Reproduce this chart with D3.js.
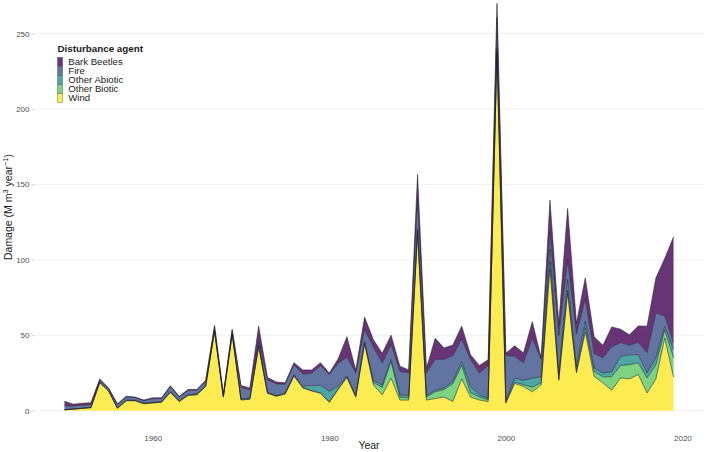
<!DOCTYPE html>
<html>
<head>
<meta charset="utf-8">
<script src="https://cdn.jsdelivr.net/npm/d3@7"></script>
<style>
  html, body { margin: 0; padding: 0; background: #fff; }
  svg { display: block; font-family: "Liberation Sans", Arial, sans-serif; }
</style>
</head>
<body>
<svg id="chart" width="709" height="452"></svg>
<script>
const years = [1950,1951,1952,1953,1954,1955,1956,1957,1958,1959,
  1960,1961,1962,1963,1964,1965,1966,1967,1968,1969,
  1970,1971,1972,1973,1974,1975,1976,1977,1978,1979,
  1980,1981,1982,1983,1984,1985,1986,1987,1988,1989,
  1990,1991,1992,1993,1994,1995,1996,1997,1998,1999,
  2000,2001,2002,2003,2004,2005,2006,2007,2008,2009,
  2010,2011,2012,2013,2014,2015,2016,2017,2018,2019];

const wind = [0.5,1,1.5,2,18.5,13,1.5,6.5,6.5,4.5,
  5,5.5,12,6,10,10.5,16,52.5,9,50.5,
  7,7.5,42.5,11.5,9.5,11,23,15,13,11.5,
  5.5,14,22,9,44,17,10.5,21.5,7,7,
  118,7,8,9,6,21,9,7,6,237,
  5,18,16,12.5,17,94,20,78,25,52,
  22.7,18.4,13.5,21.7,21,24,11.7,21,48,22.3];

const otherBiotic = [0,0,0,0,0.2,0.2,0.1,0.2,0.2,0.2,
  0.2,0.2,0.3,0.2,0.3,0.2,0.3,0.2,0.1,0.2,
  0.3,0.3,0.3,0.2,0.2,0.2,0.3,0.3,0.3,0.3,
  0.3,0.3,0.3,0.3,1,1.5,5,11,2,1.5,
  1,2,4.5,5,12,9,3,2,1.3,1.5,
  0.5,1,1.2,3,1.5,5,1,2,1,3,
  3.3,4,9,8.3,9.5,7.7,10,9.5,5.5,12.7];

const otherAbiotic = [0.2,0.1,0.1,0.1,0.3,0.3,0.3,0.3,0.2,0.3,
  0.4,0.4,0.5,0.4,0.4,0.3,0.4,0.3,0.2,0.3,
  0.5,0.5,0.5,0.3,0.3,0.3,0.5,1,3.3,5,
  7,2,0.7,0.7,1,1.5,1.5,1.5,1.5,1.5,
  1.5,1,1,1,1.5,2.5,4,1.5,1,2,
  1,2.5,3,6,4,8,3,7,3,4,
  2.3,2.6,3.3,6,6.5,5.4,3.3,4.5,2.3,5.5];

const fire = [2.5,2,2,2,1.5,1.2,2.2,2,1.7,1.6,
  2.4,2,3.2,2.5,2.8,2.5,3,2.5,1.2,2.2,
  7.5,5.5,2.2,8.5,7.7,6,6.5,8,8,13,
  11,15,12.5,15,8,22,14.5,10,15.5,15,
  20,15,20.5,19,17,15,18,14.5,21.5,20,
  30,14.5,11.5,26.5,11.5,12,26,13,22,15,
  9.7,10,16.7,9,6.3,8.3,13.3,29.8,7,4.5];

const barkBeetles = [3,1.2,1.3,1.2,0.5,0.3,0.4,0.5,0.4,0.4,
  0.5,0.4,0.5,0.4,0.5,0.5,0.5,1,0.5,0.8,
  1.3,1.2,10.5,1.5,1.3,1,1.5,2.7,2.4,2,
  1.2,3,13.5,2,8,5,6.5,6,3.5,2,
  16,3,14,7.5,7,8.5,3,5,4,9.5,
  1.5,7,6.5,11,1,20.5,8,34,7,14,
  11,8.3,13,9,7,10.7,17.7,23.2,38,70.2];

const agents = ["Bark Beetles", "Fire", "Other Abiotic", "Other Biotic", "Wind"];
const agentColors = ["#440154", "#3B528B", "#21908C", "#5DC863", "#FDE725"];
const yTicks = [0, 50, 100, 150, 200, 250];
const xTicks = [1960, 1980, 2000, 2020];

const series = {
  "Bark Beetles": barkBeetles,
  "Fire": fire,
  "Other Abiotic": otherAbiotic,
  "Other Biotic": otherBiotic,
  "Wind": wind
};
const table = years.map((yr, i) => {
  const row = { year: yr };
  agents.forEach(a => row[a] = series[a][i]);
  return row;
});

const svg = d3.select("#chart");
const panel = { left: 34, right: 704, top: -17, bottom: 431 };

const x = d3.scaleLinear().domain([1946.55, 2022.45]).range([panel.left, panel.right]);
const y = d3.scaleLinear().domain([-13.5, 283.5]).range([panel.bottom, panel.top]);
const color = d3.scaleOrdinal().domain(agents).range(agentColors);

// gridlines
svg.append("g").selectAll("line").data(yTicks).join("line")
  .attr("x1", panel.left).attr("x2", panel.right)
  .attr("y1", d => y(d)).attr("y2", d => y(d))
  .attr("stroke", "#ebebeb").attr("stroke-width", 0.8);

// stacked areas (Wind at bottom)
const stackKeys = agents.slice().reverse();
const stacked = d3.stack().keys(stackKeys)(table);

const area = d3.area()
  .x(d => x(d.data.year))
  .y0(d => y(d[0]))
  .y1(d => y(d[1]));
const upper = d3.line()
  .x(d => x(d.data.year))
  .y(d => y(d[1]));

const g = svg.append("g");
g.selectAll("path.area").data(stacked).join("path")
  .attr("class", "area")
  .attr("d", area)
  .attr("fill", d => color(d.key))
  .attr("fill-opacity", 0.8)
  .attr("stroke", "none");
g.selectAll("path.upper").data(stacked).join("path")
  .attr("class", "upper")
  .attr("d", upper)
  .attr("fill", "none")
  .attr("stroke", "#1c1c2a")
  .attr("stroke-width", 0.55);

// y axis
const yAxis = d3.axisLeft(y).tickValues(yTicks).tickSize(2.5).tickPadding(2);
const ya = svg.append("g").attr("transform", `translate(${panel.left},0)`).call(yAxis);
ya.select(".domain").remove();
ya.selectAll(".tick line").attr("stroke", "#cccccc");
ya.selectAll(".tick text").attr("fill", "#4d4d4d").style("font-size", "8px")
  .style("font-family", "'Liberation Sans', Arial, sans-serif");

// x axis
const xAxis = d3.axisBottom(x).tickValues(xTicks).tickFormat(d3.format("d")).tickSize(0).tickPadding(4);
const xa = svg.append("g").attr("transform", `translate(0,${panel.bottom})`).call(xAxis);
xa.select(".domain").remove();
xa.selectAll(".tick text").attr("fill", "#4d4d4d").style("font-size", "8px")
  .style("font-family", "'Liberation Sans', Arial, sans-serif");

// axis titles
svg.append("text").attr("x", (panel.left + panel.right) / 2).attr("y", 449)
  .attr("text-anchor", "middle").attr("fill", "#1a1a1a")
  .style("font-size", "10.5px").text("Year");

const yt = svg.append("text")
  .attr("transform", `translate(12,${(panel.top + panel.bottom) / 2}) rotate(-90)`)
  .attr("text-anchor", "middle").attr("fill", "#1a1a1a")
  .style("font-size", "10.5px");
yt.append("tspan").text("Damage (M m");
yt.append("tspan").attr("dy", -4).style("font-size", "7.5px").text("3");
yt.append("tspan").attr("dy", 4).text(" year");
yt.append("tspan").attr("dy", -4).style("font-size", "7.5px").text("−1");
yt.append("tspan").attr("dy", 4).text(")");

// legend
const lg = svg.append("g").attr("transform", "translate(57.5,43)");
lg.append("text").attr("x", 0).attr("y", 8.5).attr("fill", "#1a1a1a")
  .style("font-size", "9.8px").style("font-weight", "bold").text("Disturbance agent");
const rowH = 9.1;
const items = lg.selectAll("g.item").data(agents).join("g").attr("class", "item")
  .attr("transform", (d, i) => `translate(0,${14.3 + i * rowH})`);
items.append("rect").attr("x", 0).attr("y", 0).attr("width", 5.2).attr("height", rowH)
  .attr("fill", d => color(d)).attr("fill-opacity", 0.8)
  .attr("stroke", "#555").attr("stroke-width", 0.4);
items.append("text").attr("x", 10.8).attr("y", rowH - 1.6).attr("fill", "#1a1a1a")
  .style("font-size", "9.6px").text(d => d);
</script>
</body>
</html>
